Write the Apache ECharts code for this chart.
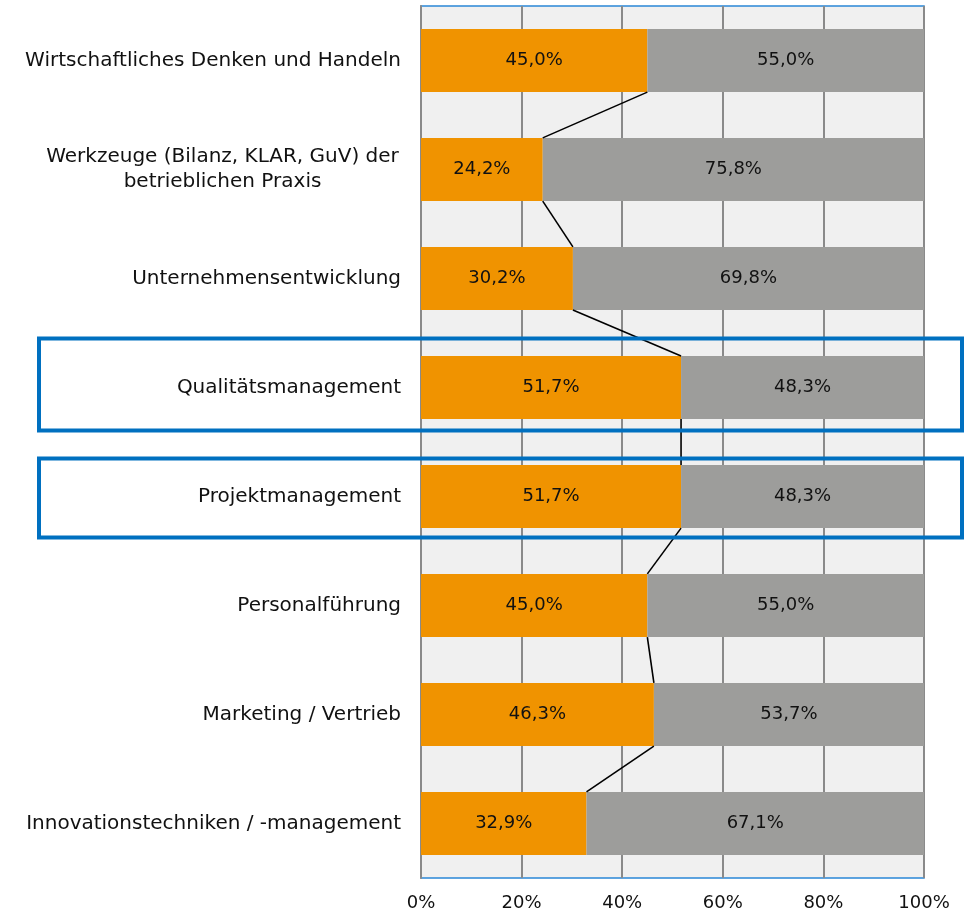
<!DOCTYPE html>
<html><head><meta charset="utf-8">
<script src="https://cdn.jsdelivr.net/npm/echarts@6/dist/echarts.min.js"></script>
<style>html,body{margin:0;padding:0;background:#fff}#c{width:974px;height:917px}</style>
</head><body><div id="c"></div>
<script>
const categories = [
  'Wirtschaftliches Denken und Handeln',
  'Werkzeuge (Bilanz, KLAR, GuV) der\nbetrieblichen Praxis',
  'Unternehmensentwicklung',
  'Qualitätsmanagement',
  'Projektmanagement',
  'Personalführung',
  'Marketing / Vertrieb',
  'Innovationstechniken / -management'
];
const orangeValues = [45.0, 24.2, 30.2, 51.7, 51.7, 45.0, 46.3, 32.9];
const grayValues   = [55.0, 75.8, 69.8, 48.3, 48.3, 55.0, 53.7, 67.1];
const highlighted  = [3, 4];
const xTicks = [0, 20, 40, 60, 80, 100];

const FONT = 'DejaVu Sans';
const connectors = [];
for (let i = 0; i < orangeValues.length - 1; i++) {
  connectors.push([orangeValues[i], i, orangeValues[i + 1], i + 1]);
}
const fmt = v => v.toFixed(1).replace('.', ',') + '%';
// box padding above / below category centre, per highlighted box (layout only)
const boxPad = [[49, 43], [38, 41]];

const chart = echarts.init(document.getElementById('c'), null, {renderer: 'canvas'});
chart.setOption({
  animation: false,
  backgroundColor: '#ffffff',
  textStyle: {fontFamily: FONT},
  grid: {left: 421, right: 50, top: 6, bottom: 39, show: true,
         backgroundColor: '#f0f0f0', borderColor: '#2a86d6', borderWidth: 1.5},
  xAxis: {
    type: 'value', min: xTicks[0], max: xTicks[xTicks.length - 1], interval: 20,
    axisLine: {show: false}, axisTick: {show: false},
    splitLine: {show: true, lineStyle: {color: '#8a8a8a', width: 2}},
    axisLabel: {formatter: v => v + '%', color: '#111', fontSize: 18, fontFamily: FONT, margin: 16}
  },
  yAxis: {
    type: 'category', inverse: true, data: categories,
    axisLine: {show: true, lineStyle: {color: '#8a8a8a', width: 2}},
    axisTick: {show: false},
    axisLabel: {
      color: '#111', fontSize: 20, fontFamily: FONT, margin: 20, lineHeight: 25,
      formatter: v => v.indexOf('\n') >= 0
        ? v.split('\n').map(s => '{w|' + s + '}').join('\n') : v,
      rich: {w: {width: 357, align: 'center', fontSize: 20, fontFamily: FONT, color: '#111', lineHeight: 25}}
    }
  },
  series: [
    {
      type: 'bar', stack: 'a', data: orangeValues, barWidth: '58%',
      itemStyle: {color: '#f09300'},
      label: {show: true, position: 'inside', color: '#111', fontSize: 18, fontFamily: FONT,
              formatter: p => fmt(p.value)}
    },
    {
      type: 'bar', stack: 'a', data: grayValues, barWidth: '58%',
      itemStyle: {color: '#9d9d9b'},
      label: {show: true, position: 'inside', color: '#111', fontSize: 18, fontFamily: FONT,
              formatter: p => fmt(p.value)}
    },
    {
      type: 'custom', data: connectors, z: 5,
      encode: {x: [0, 2], y: [1, 3]},
      renderItem: (params, api) => {
        const p1 = api.coord([api.value(0), api.value(1)]);
        const p2 = api.coord([api.value(2), api.value(3)]);
        const half = api.size([0, 1])[1] * 0.29;
        return {type: 'line', shape: {x1: p1[0], y1: p1[1] + half, x2: p2[0], y2: p2[1] - half},
                style: {stroke: '#000', lineWidth: 1.6}};
      }
    },
    {
      type: 'custom', data: highlighted.map(i => [0, i]), z: 10, clip: false,
      encode: {x: 0, y: 1},
      renderItem: (params, api) => {
        const c = api.coord([0, api.value(1)]);
        const pad = boxPad[params.dataIndex];
        return {type: 'rect', shape: {x: 39, y: c[1] - pad[0], width: 923, height: pad[0] + pad[1]},
                style: {fill: 'none', stroke: '#0070c0', lineWidth: 4}};
      }
    }
  ]
});
</script></body></html>
